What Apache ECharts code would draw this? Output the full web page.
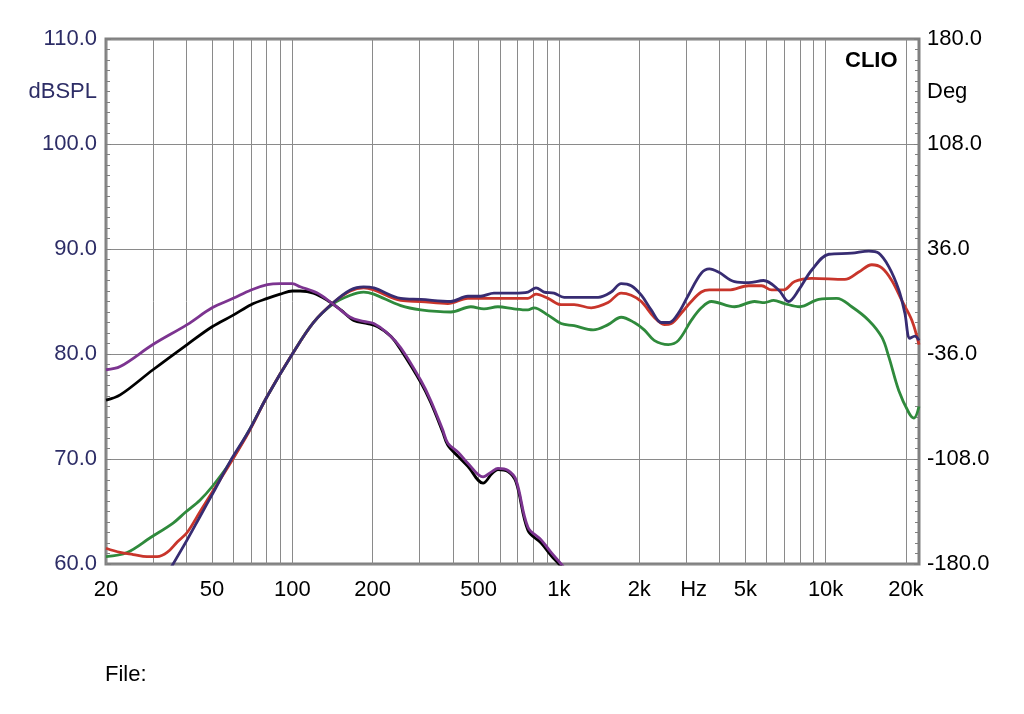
<!DOCTYPE html>
<html>
<head>
<meta charset="utf-8">
<script src="https://cdn.jsdelivr.net/npm/echarts@6/dist/echarts.min.js"></script>
<style>
html,body{margin:0;padding:0;background:#fff;}
#chart{width:1024px;height:714px;}
</style>
</head>
<body>
<div id="chart"></div>
<script>
// ---- Axis definitions ----
const xMinHz = 20;
const xMaxHz = 22400;
const xGridHz = [20,30,40,50,60,70,80,90,100,200,300,400,500,600,700,800,900,1000,2000,3000,4000,5000,6000,7000,8000,9000,10000,20000];
const xLabelHz = [20,50,100,200,500,1000,2000,3200,5000,10000,20000];
const xLabelText = ['20','50','100','200','500','1k','2k','Hz','5k','10k','20k'];
const yLeftLabelVals = [60,70,80,90,100,105,110];
const yLeftLabelText = ['60.0','70.0','80.0','90.0','100.0','dBSPL','110.0'];
const yRightLabelVals = [-180,-108,-36,36,108,144,180];
const yRightLabelText = ['-180.0','-108.0','-36.0','36.0','108.0','Deg','180.0'];

// ---- Curves: [frequency Hz, dB SPL] ----
const purpleCurve = [[20,78.5],[22.6,78.8],[30,80.9],[40.3,82.8],[50,84.4],[60,85.3],[70,86.1],[80.6,86.6],[90,86.7],[100,86.7],[107,86.4],[124,85.8],[143,84.7],[165,83.5],[185,83.1],[202,82.9],[227,82.0],[255,80.6],[303,77.5],[330,75.6],[366,72.8],[383,71.5],[420,70.6],[455,69.6],[519,68.3],[560,68.8],[590,69.1],[644,68.9],[690,68.0],[765,63.5],[857,62.3],[934,61.1],[1018,60.0],[1080,59.2]];
const blackCurve = [[20,75.6],[22.6,76.1],[30,78.5],[40.3,80.9],[50,82.6],[60,83.7],[70,84.7],[80.6,85.3],[90,85.7],[100,86.0],[107,86.0],[120,85.8],[135.5,85.1],[152,84.2],[170,83.2],[191.5,82.9],[209,82.6],[234,81.7],[255,80.4],[303,77.3],[330,75.4],[366,72.6],[383,71.3],[420,70.2],[455,69.3],[519,67.7],[560,68.6],[590,69.0],[644,68.8],[690,67.8],[765,63.2],[857,62.0],[934,60.8],[1000,60.0],[1060,59.2]];
const navyCurve = [[32,57.9],[35.7,60.0],[40.3,62.3],[45,64.5],[50.5,66.8],[58.5,69.8],[68.4,72.6],[80.6,76.0],[100,80.0],[120,83.0],[142.6,84.9],[165,86.1],[185,86.4],[202,86.3],[255,85.3],[303,85.2],[393,85.0],[455,85.5],[509,85.5],[570,85.8],[678,85.8],[765,85.9],[820,86.3],[879,85.9],[958,85.8],[1045,85.4],[1211,85.4],[1403,85.4],[1570,85.9],[1711,86.7],[1866,86.5],[2036,85.6],[2217,84.2],[2420,83.0],[2594,83.0],[2806,83.9],[3056,85.6],[3419,87.7],[3665,88.1],[3964,87.8],[4552,86.9],[5140,86.8],[5850,87.0],[6668,86.1],[7262,85.0],[7926,86.1],[8870,88.0],[10280,89.5],[12530,89.6],[14520,89.8],[15820,89.6],[17270,88.3],[18820,86.1],[19820,83.9],[20700,81.5],[21620,81.7],[22400,81.3]];
const redCurve = [[20,61.5],[22.6,61.1],[25.3,60.9],[28.5,60.7],[31.1,60.7],[33.9,61.1],[37,62.1],[40.3,63.0],[45.1,65.0],[50.5,67.0],[58.5,69.6],[68.4,72.5],[80.6,76.0],[100,80.0],[120,83.0],[142.6,84.9],[165,86.0],[185,86.3],[202,86.1],[255,85.1],[303,85.0],[383,84.8],[455,85.3],[570,85.3],[678,85.3],[765,85.3],[820,85.7],[910,85.3],[1018,84.7],[1140,84.7],[1321,84.4],[1528,84.9],[1711,85.8],[1866,85.6],[2036,85.0],[2275,83.5],[2483,82.8],[2638,82.9],[2877,83.9],[3134,85.0],[3419,85.9],[3665,86.1],[4325,86.1],[5140,86.5],[5755,86.5],[6268,86.1],[6955,86.1],[7656,86.9],[8870,87.2],[11800,87.1],[13310,87.8],[14900,88.5],[16250,88.2],[17710,87.0],[19310,85.1],[21070,83.2],[22400,80.9]];
const greenCurve = [[20,60.7],[24,61.1],[29.3,62.5],[35.7,63.9],[39.6,64.9],[45.1,66.1],[50.5,67.5],[58.5,69.7],[68.4,72.6],[80.6,76.0],[100,80.0],[120,83.0],[142.6,84.8],[165,85.6],[185,85.9],[202,85.7],[255,84.6],[303,84.2],[393,84.0],[467,84.5],[523,84.3],[590,84.5],[678,84.3],[765,84.2],[806,84.4],[910,83.7],[1018,82.9],[1140,82.7],[1343,82.3],[1528,82.8],[1711,83.5],[1915,83.0],[2088,82.3],[2275,81.3],[2571,80.9],[2806,81.3],[3134,83.2],[3419,84.4],[3730,85.0],[4552,84.5],[5412,85.0],[5900,84.9],[6381,85.1],[7020,84.8],[7999,84.5],[9420,85.2],[11010,85.3],[12530,84.5],[14520,83.2],[16250,81.6],[17270,79.7],[18820,76.5],[20520,74.4],[21430,73.9],[22400,75.0]];

const lg = v => Math.log10(v);
const toXY = curve => curve.map(p => [lg(p[0]), p[1]]);
function pick(vals, texts, v, useLog) {
  for (let i = 0; i < vals.length; i++) {
    const t = useLog ? lg(vals[i]) : vals[i];
    if (Math.abs(t - v) < 1e-6) return texts[i];
  }
  return '';
}

const FONT = 'Liberation Sans, Arial, sans-serif';
const gridColor = '#8a8a8a';
const frameColor = '#808080';

const chart = echarts.init(document.getElementById('chart'), null, {renderer: 'canvas'});
chart.setOption({
  animation: false,
  backgroundColor: '#ffffff',
  title: [
    {text: 'CLIO', left: 840, top: 45, textStyle: {fontFamily: FONT, fontSize: 22, fontWeight: 'bold', color: '#000'}},
    {text: 'File:', left: 100, top: 659, textStyle: {fontFamily: FONT, fontSize: 22, fontWeight: 'normal', color: '#000'}}
  ],
  grid: {left: 106, right: 105, top: 39, bottom: 150, show: true, borderWidth: 3, borderColor: frameColor, backgroundColor: 'transparent', containLabel: false},
  xAxis: {
    type: 'value', min: lg(xMinHz), max: lg(xMaxHz),
    axisLine: {show: false},
    axisTick: {show: false, customValues: xGridHz.map(lg)},
    splitLine: {show: true, lineStyle: {color: gridColor, width: 1}},
    axisLabel: {
      customValues: xLabelHz.map(lg),
      formatter: v => pick(xLabelHz, xLabelText, v, true),
      fontFamily: FONT, fontSize: 22, color: '#000', margin: 15
    }
  },
  yAxis: [
    {
      type: 'value', min: 60, max: 110, interval: 10, position: 'left',
      axisLine: {show: false},
      axisTick: {show: true, inside: true, length: 5, lineStyle: {color: frameColor, width: 1}},
      minorTick: {show: true, splitNumber: 10, length: 4, lineStyle: {color: frameColor, width: 1}},
      splitLine: {show: true, lineStyle: {color: gridColor, width: 1}},
      axisLabel: {
        customValues: yLeftLabelVals,
        formatter: v => pick(yLeftLabelVals, yLeftLabelText, v, false),
        fontFamily: FONT, fontSize: 22, color: '#2d2d66', margin: 9
      }
    },
    {
      type: 'value', min: -180, max: 180, interval: 72, position: 'right',
      axisLine: {show: false},
      axisTick: {show: true, inside: true, length: 5, lineStyle: {color: frameColor, width: 1}},
      minorTick: {show: true, splitNumber: 10, length: 4, lineStyle: {color: frameColor, width: 1}},
      splitLine: {show: false},
      axisLabel: {
        customValues: yRightLabelVals,
        formatter: v => pick(yRightLabelVals, yRightLabelText, v, false),
        fontFamily: FONT, fontSize: 22, color: '#000', margin: 8
      }
    }
  ],
  series: [
    {name: 'green', type: 'line', data: toXY(greenCurve), color: '#2f8a3c'},
    {name: 'red', type: 'line', data: toXY(redCurve), color: '#c8352b'},
    {name: 'navy', type: 'line', data: toXY(navyCurve), color: '#372c72'},
    {name: 'black', type: 'line', data: toXY(blackCurve), color: '#000000'},
    {name: 'purple', type: 'line', data: toXY(purpleCurve), color: '#7c3490'}
  ].map(s => Object.assign(s, {
    yAxisIndex: 0, showSymbol: false, smooth: 0.35, clip: true,
    lineStyle: {width: 2.8, color: s.color}
  }))
});
</script>
</body>
</html>
